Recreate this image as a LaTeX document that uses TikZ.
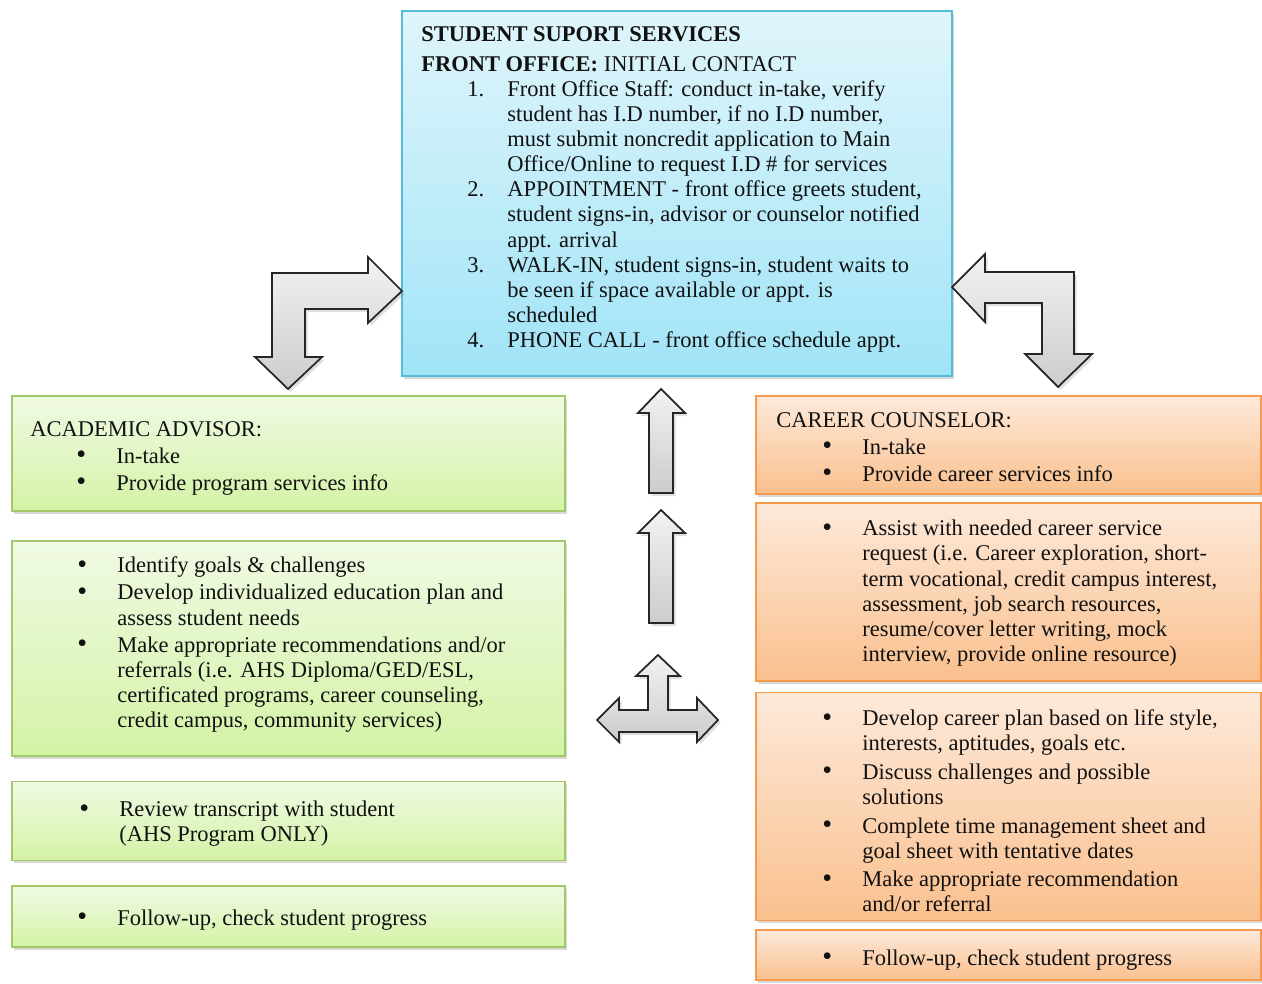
\documentclass[tikz,border=0pt]{standalone}
\usepackage{fontspec}
\setmainfont{Liberation Serif}
\usepackage{tikz}
\usetikzlibrary{positioning,calc,shadows}

\definecolor{skyedge}{HTML}{55BCDB}
\definecolor{skytop}{HTML}{E0F5FB}
\definecolor{skybot}{HTML}{A0E4F7}
\definecolor{leafedge}{HTML}{A3C86A}
\definecolor{leaftop}{HTML}{F0FAE4}
\definecolor{leafbot}{HTML}{D4F3A6}
\definecolor{peachedge}{HTML}{F59A4E}
\definecolor{peachtop}{HTML}{FDE9DA}
\definecolor{peachbot}{HTML}{FAC08E}
\definecolor{ink}{HTML}{111111}

% text block hanging from its first baseline
\newcommand{\block}[1]{\begin{tabular}[t]{@{}l@{}}#1\end{tabular}}
% list line with a marker, and its continuation line
\newcommand{\li}[2]{\hspace*{9.2mm}\makebox[8mm][l]{#1}#2}
\newcommand{\lc}[1]{\hspace*{17.2mm}#1}
\newcommand{\bul}{\raisebox{-0.4pt}{\fontsize{16}{16}\selectfont\textbullet}}

\tikzset{
  panel/.style={rectangle, line width=1pt, inner sep=0pt, anchor=north west,
                drop shadow={shadow xshift=0.5mm, shadow yshift=-0.6mm, opacity=0.3}},
  frontbox/.style={panel, draw=skyedge, top color=skytop, bottom color=skybot},
  advbox/.style={panel, draw=leafedge, top color=leaftop, bottom color=leafbot, minimum width=110.6mm},
  carbox/.style={panel, draw=peachedge, top color=peachtop, bottom color=peachbot, minimum width=101mm},
  txt/.style={anchor=base west, inner sep=0pt, text=ink,
              font=\fontsize{12.8}{14.3}\selectfont},
  blockarrow/.style={draw=black!85, line width=1pt, top color=gray!10, bottom color=gray!40,
                     drop shadow={shadow xshift=0.5mm, shadow yshift=-0.6mm, opacity=0.25}}
}

\begin{document}
\begin{tikzpicture}[x=0.2mm, y=-0.2mm]
\useasboundingbox[fill=white] (0,0) rectangle (1262,983);

% front office
\node[frontbox, minimum width=110mm, minimum height=73mm] (front) at (401,10) {};
\node[txt] (frontTxt) at ($(front.north west)+(20,32)$) {\block{%
  \textbf{STUDENT SUPORT SERVICES}\\[0.8mm]
  \textbf{FRONT OFFICE:} INITIAL CONTACT\\
  \li{1.}{Front Office Staff: conduct in-take, verify}\\
  \lc{student has I.D number, if no I.D number,}\\
  \lc{must submit noncredit application to Main}\\
  \lc{Office/Online to request I.D \# for services}\\
  \li{2.}{APPOINTMENT - front office greets student,}\\
  \lc{student signs-in, advisor or counselor notified}\\
  \lc{appt. arrival}\\
  \li{3.}{WALK-IN, student signs-in, student waits to}\\
  \lc{be seen if space available or appt. is}\\
  \lc{scheduled}\\
  \li{4.}{PHONE CALL - front office schedule appt.}}};

% academic advisor column
\node[advbox, minimum height=23mm] (adv1) at (11,395) {};
\node[advbox, minimum height=43mm, below=5.6mm of adv1] (adv2) {};
\node[advbox, minimum height=15.8mm, below=4.8mm of adv2] (adv3) {};
\node[advbox, minimum height=12.2mm, below=4.8mm of adv3] (adv4) {};

\node[txt] (adv1Txt) at ($(adv1.north west)+(19,41)$) {\block{%
  ACADEMIC ADVISOR:\\[0.4mm]
  \li{\bul}{In-take}\\[0.4mm]
  \li{\bul}{Provide program services info}}};
\node[txt] (adv2Txt) at ($(adv2.north west)+(20,33)$) {\block{%
  \li{\bul}{Identify goals \& challenges}\\[0.4mm]
  \li{\bul}{Develop individualized education plan and}\\
  \lc{assess student needs}\\[0.4mm]
  \li{\bul}{Make appropriate recommendations and/or}\\
  \lc{referrals (i.e. AHS Diploma/GED/ESL,}\\
  \lc{certificated programs, career counseling,}\\
  \lc{credit campus, community services)}}};
\node[txt] (adv3Txt) at ($(adv3.north west)+(22,36)$) {\block{%
  \li{\bul}{Review transcript with student}\\
  \lc{(AHS Program ONLY)}}};
\node[txt] (adv4Txt) at ($(adv4.north west)+(20,40)$) {\block{%
  \li{\bul}{Follow-up, check student progress}}};

% career counselor column
\node[carbox, minimum height=19.6mm] (car1) at (755,395) {};
\node[carbox, minimum height=35.6mm, below=1.4mm of car1] (car2) {};
\node[carbox, minimum height=45.6mm, below=2mm of car2] (car3) {};
\node[carbox, minimum height=10mm, below=1.6mm of car3] (car4) {};

\node[txt] (car1Txt) at ($(car1.north west)+(21,32)$) {\block{%
  CAREER COUNSELOR:\\[0.4mm]
  \li{\bul}{In-take}\\[0.4mm]
  \li{\bul}{Provide career services info}}};
\node[txt] (car2Txt) at ($(car2.north west)+(21,34)$) {\block{%
  \li{\bul}{Assist with needed career service}\\
  \lc{request (i.e. Career exploration, short-}\\
  \lc{term vocational, credit campus interest,}\\
  \lc{assessment, job search resources,}\\
  \lc{resume/cover letter writing, mock}\\
  \lc{interview, provide online resource)}}};
\node[txt] (car3Txt) at ($(car3.north west)+(21,34)$) {\block{%
  \li{\bul}{Develop career plan based on life style,}\\
  \lc{interests, aptitudes, goals etc.}\\[0.7mm]
  \li{\bul}{Discuss challenges and possible}\\
  \lc{solutions}\\[0.7mm]
  \li{\bul}{Complete time management sheet and}\\
  \lc{goal sheet with tentative dates}\\[0.7mm]
  \li{\bul}{Make appropriate recommendation}\\
  \lc{and/or referral}}};
\node[txt] (car4Txt) at ($(car4.north west)+(21,36)$) {\block{%
  \li{\bul}{Follow-up, check student progress}}};

% block arrows
\draw[blockarrow] (272,273) -- (368,273) -- (368,257) -- (402,291) -- (368,323) -- (368,309)
  -- (305,309) -- (305,357) -- (322,357) -- (288,389) -- (255,357) -- (272,357) -- cycle;
\draw[blockarrow] (1074,272) -- (985,272) -- (985,254) -- (952,287) -- (985,322) -- (985,303)
  -- (1042,303) -- (1042,354) -- (1025,354) -- (1058,387) -- (1092,354) -- (1074,354) -- cycle;
\draw[blockarrow] (649,493) -- (649,413) -- (638,413) -- (661,389) -- (685,413) -- (673,413)
  -- (673,493) -- cycle;
\draw[blockarrow] (649,623) -- (649,533) -- (638,533) -- (661,510) -- (685,533) -- (673,533)
  -- (673,623) -- cycle;
\draw[blockarrow] (597,720) -- (619,698) -- (619,710) -- (648,710) -- (648,676) -- (636,676)
  -- (658,655) -- (680,676) -- (668,676) -- (668,710) -- (697,710) -- (697,698) -- (718,720)
  -- (697,742) -- (697,732) -- (619,732) -- (619,742) -- cycle;
\end{tikzpicture}
\end{document}
